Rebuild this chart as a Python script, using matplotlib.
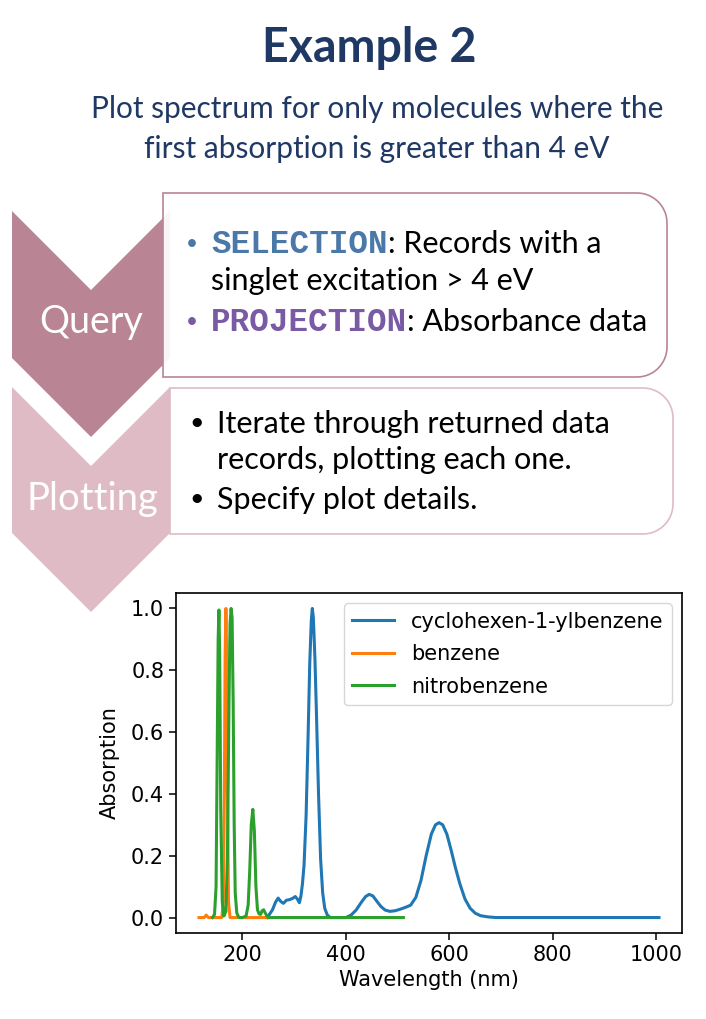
import matplotlib
matplotlib.use('Agg')
import matplotlib.pyplot as plt
from matplotlib.patches import Polygon, PathPatch
from matplotlib.path import Path
import numpy as np

# spectra (wavelength in nm, normalised absorption)
cyclohexenyl_x = [248, 258, 264, 269, 274, 279, 285, 291, 297, 302, 306, 310, 313, 316, 319, 323,
                  327, 330, 333, 335, 337, 340, 343, 347, 351, 355, 359, 364, 370, 380, 400, 410, 420, 430,
                  438, 445, 452, 460, 468, 476, 485, 495, 505, 515, 525, 535, 545, 555, 565, 573,
                  580, 587, 595, 603, 611, 620, 630, 640, 650, 660, 675, 690, 710, 750, 800, 900, 1005]
cyclohexenyl_y = [0.0, 0.025, 0.05, 0.063, 0.052, 0.046, 0.056, 0.058, 0.062, 0.068, 0.06, 0.048, 0.07, 0.11, 0.17, 0.33,
                  0.6, 0.82, 0.96, 1.0, 0.97, 0.84, 0.66, 0.4, 0.19, 0.08, 0.03, 0.008, 0.0, 0.0, 0.0, 0.008, 0.025, 0.05,
                  0.068, 0.075, 0.07, 0.052, 0.035, 0.024, 0.02, 0.022, 0.027, 0.033, 0.04, 0.065, 0.12, 0.2, 0.27, 0.3,
                  0.307, 0.3, 0.27, 0.22, 0.165, 0.11, 0.06, 0.03, 0.014, 0.006, 0.002, 0.0, 0.0, 0.0, 0.0, 0.0, 0.0]

benzene_x = [116, 126, 130, 134, 140, 150, 160, 163, 165, 166.5, 168, 169.5, 171, 173, 176, 190, 210, 230, 250]
benzene_y = [0.0, 0.0, 0.008, 0.0, 0.0, 0.0, 0.0, 0.05, 0.4, 0.85, 1.0, 0.85, 0.4, 0.05, 0.0, 0.0, 0.0, 0.0, 0.0]

nitrobenzene_x = [142, 146, 149, 151, 153, 154.5, 156, 158, 161, 164, 168, 171, 174, 176, 178, 180,
                  182, 184, 186, 189, 193, 200, 207, 211, 214, 217, 220, 223, 226, 229, 232, 235,
                  238, 241, 244, 247, 250, 260, 300, 400, 511]
nitrobenzene_y = [0.0, 0.01, 0.1, 0.5, 0.9, 0.995, 0.85, 0.35, 0.05, 0.005, 0.02, 0.2, 0.7, 0.95, 1.0, 0.97,
                  0.7, 0.3, 0.08, 0.015, 0.0, 0.0, 0.005, 0.04, 0.15, 0.3, 0.35, 0.28, 0.1, 0.025, 0.012, 0.01,
                  0.022, 0.025, 0.015, 0.006, 0.0, 0.0, 0.0, 0.0, 0.0]

series_names = ['cyclohexen-1-ylbenzene', 'benzene', 'nitrobenzene']

NAVY = '#1f3864'
DARK_MAUVE = '#b98494'
LIGHT_MAUVE = '#dfbbc6'
SEL_BLUE = '#4a78a8'
PROJ_PURPLE = '#7a5aa5'
SANS = ['Lato', 'DejaVu Sans']
MONO = ['Liberation Mono', 'DejaVu Sans Mono']


def round_right_box(x0, y0, x1, y1, r):
    # square corners on the left, rounded on the right (y grows downwards)
    a1 = np.linspace(-np.pi / 2, 0, 16)
    a2 = np.linspace(0, np.pi / 2, 16)
    verts = [(x0, y0)]
    verts += [(x1 - r + r * np.cos(t), y0 + r + r * np.sin(t)) for t in a1]
    verts += [(x1 - r + r * np.cos(t), y1 - r + r * np.sin(t)) for t in a2]
    verts += [(x0, y1), (x0, y0)]
    codes = [Path.MOVETO] + [Path.LINETO] * (len(verts) - 2) + [Path.CLOSEPOLY]
    return Path(verts, codes)


def chevron(x0, x1, top, side_bottom, depth):
    xm = (x0 + x1) / 2.0
    return [(x0, top), (xm, top + depth), (x1, top), (x1, side_bottom),
            (xm, side_bottom + depth), (x0, side_bottom)]


fig = plt.figure(figsize=(7.06, 10.19), dpi=100)

# background layer in pixel coordinates
bg = fig.add_axes([0, 0, 1, 1])
bg.set_xlim(0, 706)
bg.set_ylim(1019, 0)
bg.axis('off')

bg.text(369, 62, 'Example 2', ha='center', va='baseline', fontsize=33.5,
        fontweight='bold', family=SANS, color=NAVY)
bg.text(377, 118, 'Plot spectrum for only molecules where the', ha='center',
        va='baseline', fontsize=21.5, family=SANS, color=NAVY)
bg.text(377, 158, 'first absorption is greater than 4 eV', ha='center',
        va='baseline', fontsize=21.5, family=SANS, color=NAVY)

# chevrons
bg.add_patch(Polygon(chevron(12, 170, 211, 358, 79), closed=True,
                     facecolor=DARK_MAUVE, edgecolor='none', zorder=1))
bg.add_patch(Polygon(chevron(12, 170, 387, 533, 79), closed=True,
                     facecolor=LIGHT_MAUVE, edgecolor='none', zorder=1))

# text boxes
bg.add_patch(PathPatch(round_right_box(163, 193, 667, 377, 30), facecolor='white',
                       alpha=0.92, edgecolor='none', zorder=2))
bg.add_patch(PathPatch(round_right_box(163, 193, 667, 377, 30), facecolor='none',
                       edgecolor=DARK_MAUVE, lw=1.2, zorder=3))
bg.add_patch(PathPatch(round_right_box(170, 388, 673, 534, 30), facecolor='white',
                       edgecolor=LIGHT_MAUVE, lw=1.2, zorder=2))

bg.text(91, 333, 'Query', ha='center', va='baseline', fontsize=27,
        family=SANS, color='white', zorder=4)
bg.text(92, 510, 'Plotting', ha='center', va='baseline', fontsize=27.5,
        family=SANS, color='white', zorder=4)

# query box contents
bg.text(192, 250, '\u2022', ha='center', va='baseline', fontsize=15, family=SANS,
        color=SEL_BLUE, zorder=4)
bg.text(211, 253, 'SELECTION', ha='left', va='baseline', fontsize=23.5,
        fontweight='bold', family=MONO, color=SEL_BLUE, zorder=4)
bg.text(388, 253, ': Records with a', ha='left', va='baseline', fontsize=22,
        family=SANS, color='black', zorder=4)
bg.text(211, 290, 'singlet excitation > 4 eV', ha='left', va='baseline', fontsize=22,
        family=SANS, color='black', zorder=4)
bg.text(192, 328, '\u2022', ha='center', va='baseline', fontsize=15, family=SANS,
        color=PROJ_PURPLE, zorder=4)
bg.text(211, 331, 'PROJECTION', ha='left', va='baseline', fontsize=23.5,
        fontweight='bold', family=MONO, color=PROJ_PURPLE, zorder=4)
bg.text(407, 331, ': Absorbance data', ha='left', va='baseline', fontsize=22,
        family=SANS, color='black', zorder=4)

# plotting box contents
bg.text(197, 430, '\u2022', ha='center', va='baseline', fontsize=18, family=SANS,
        color='black', zorder=4)
bg.text(217, 433, 'Iterate through returned data', ha='left', va='baseline',
        fontsize=22, family=SANS, color='black', zorder=4)
bg.text(217, 469, 'records, plotting each one.', ha='left', va='baseline',
        fontsize=22, family=SANS, color='black', zorder=4)
bg.text(197, 506, '\u2022', ha='center', va='baseline', fontsize=18, family=SANS,
        color='black', zorder=4)
bg.text(217, 509, 'Specify plot details.', ha='left', va='baseline',
        fontsize=22, family=SANS, color='black', zorder=4)

# the spectrum plot
fs = 15
ax = fig.add_axes([176 / 706, 1 - 933 / 1019, 506 / 706, 340 / 1019])
ax.plot(cyclohexenyl_x, cyclohexenyl_y, color='#1f77b4', lw=2.2, label=series_names[0])
ax.plot(benzene_x, benzene_y, color='#ff7f0e', lw=2.2, label=series_names[1])
ax.plot(nitrobenzene_x, nitrobenzene_y, color='#2ca02c', lw=2.2, label=series_names[2])
ax.set_xticks([200, 400, 600, 800, 1000])
ax.set_yticks([0.0, 0.2, 0.4, 0.6, 0.8, 1.0])
ax.tick_params(labelsize=fs, length=5, width=1.1)
for s in ax.spines.values():
    s.set_linewidth(1.2)
ax.set_xlabel('Wavelength (nm)', fontsize=fs)
ax.set_ylabel('Absorption', fontsize=fs, labelpad=8)
ax.legend(loc='upper right', fontsize=fs, labelspacing=0.6)

fig.savefig('out.png', dpi=100)
plt.close()
